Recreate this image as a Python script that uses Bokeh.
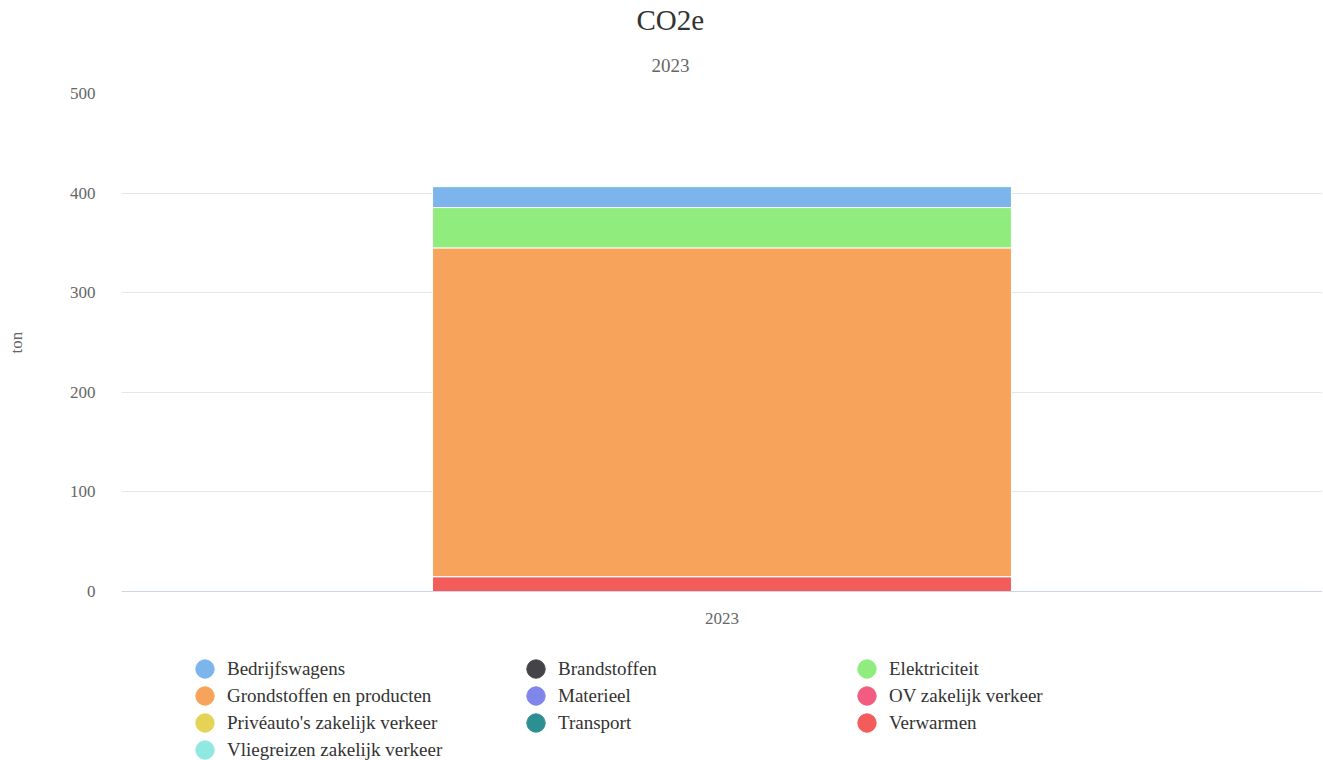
import numpy as np
from bokeh.plotting import figure
from bokeh.layouts import column
from bokeh.models import Title, Legend, LegendItem, FactorRange, Range1d, ColumnDataSource, FixedTicker
from bokeh.embed import file_html
from bokeh.resources import INLINE

years = ["2023"]
series = ["Bedrijfswagens", "Brandstoffen", "Elektriciteit", "Grondstoffen en producten",
          "Materieel", "OV zakelijk verkeer", "Privéauto's zakelijk verkeer", "Transport",
          "Verwarmen", "Vliegreizen zakelijk verkeer"]
values = [21, 0, 40.5, 330, 0, 0, 0, 0, 15, 0]
colors = ["#7cb5ec", "#434348", "#90ed7d", "#f7a35c", "#8085e9", "#f15c80",
          "#e4d354", "#2b908f", "#f45b5b", "#91e8e1"]
y_ticks = [0, 100, 200, 300, 400, 500]

FONT = "Liberation Serif"
W = 1322

data = {"x": years}
for name, v in zip(series, values):
    data[name] = [v]
source = ColumnDataSource(data)

p = figure(x_range=FactorRange(factors=years, range_padding=0), y_range=Range1d(0, 500),
           width=W, height=641, output_backend="svg", toolbar_location=None,
           title=None, min_border_left=121, min_border_right=0, min_border_bottom=50,
           min_border_top=93)

# Highcharts stacks the last series at the bottom
stack_names = list(reversed(series))
stack_colors = list(reversed(colors))
p.vbar_stack(stack_names, x="x", width=0.482, source=source, color=stack_colors,
             line_color="white", line_width=1)

sub = Title(text="2023", align="left", offset=530, text_font_size="19px", text_color="#666666",
            text_font=FONT, text_font_style="normal", standoff=43)
p.add_layout(sub, "above")
main = Title(text="CO2e", align="left", offset=515, text_font_size="29px", text_color="#333333",
             text_font=FONT, text_font_style="normal", standoff=0)
p.add_layout(main, "above")

p.outline_line_color = None
p.xgrid.grid_line_color = None
p.ygrid.grid_line_color = "#e6e6e6"
p.yaxis.ticker = FixedTicker(ticks=y_ticks)
p.yaxis.axis_line_color = None
p.yaxis.major_tick_line_color = None
p.yaxis.minor_tick_line_color = None
p.yaxis.major_label_standoff = 20
p.yaxis.major_label_text_font = FONT
p.yaxis.major_label_text_font_size = "17px"
p.yaxis.major_label_text_color = "#666666"
p.yaxis.axis_label = "ton"
p.yaxis.axis_label_text_font = FONT
p.yaxis.axis_label_text_font_size = "17px"
p.yaxis.axis_label_text_font_style = "normal"
p.yaxis.axis_label_text_color = "#666666"
p.yaxis.axis_label_standoff = 41

p.xaxis.axis_line_color = "#ccd6eb"
p.xaxis.major_tick_line_color = None
p.xaxis.minor_tick_line_color = None
p.xaxis.major_label_standoff = 15
p.xaxis.major_label_text_font = FONT
p.xaxis.major_label_text_font_size = "17px"
p.xaxis.major_label_text_color = "#666666"

# legend strip below the chart
lg = figure(x_range=FactorRange(factors=years), y_range=Range1d(0, 1),
            width=W, height=119, output_backend="svg", toolbar_location=None,
            title=None, min_border=0, min_border_left=0, min_border_right=0,
            min_border_top=0, min_border_bottom=0)
lg.axis.visible = False
lg.grid.visible = False
lg.outline_line_color = None

proxy_src = ColumnDataSource(dict(x=years, y=np.array([np.nan])))
items = []
for name, c in zip(series, colors):
    r = lg.ellipse(x="x", y="y", width=18, height=18, width_units="screen", height_units="screen",
                   source=proxy_src, fill_color=c, line_color=c)
    items.append(LegendItem(label=name, renderers=[r]))

legend = Legend(items=items, location=(72, -1), orientation="horizontal", ncols=3,
                glyph_width=23, glyph_height=23, spacing=4, label_standoff=11,
                label_width=293, label_height=20, padding=0, margin=0,
                border_line_color=None, background_fill_alpha=0,
                label_text_font_size="19px", label_text_font=FONT, label_text_color="#333333")
lg.add_layout(legend, "center")

layout = column(p, lg, spacing=0)
open("out.html", "w").write(file_html(layout, INLINE))
